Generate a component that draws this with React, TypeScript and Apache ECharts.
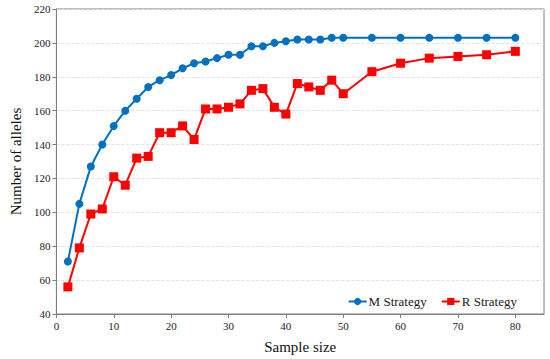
import React, { useEffect, useRef } from "react";
import * as echarts from "echarts";

const sampleSizes = [2, 4, 6, 8, 10, 12, 14, 16, 18, 20, 22, 24, 26, 28, 30, 32, 34, 36, 38, 40, 42, 44, 46, 48, 50, 55, 60, 65, 70, 75, 80];
const mStrategy = [71, 105, 127, 140, 151, 160, 167, 174, 178, 181, 185, 188, 189, 191, 193, 193, 198, 198, 200, 201, 202, 202, 202, 203, 203, 203, 203, 203, 203, 203, 203];
const rStrategy = [56, 79, 99, 102, 121, 116, 132, 133, 147, 147, 151, 143, 161, 161, 162, 164, 172, 173, 162, 158, 176, 174, 172, 178, 170, 183, 188, 191, 192, 193, 195];
const seriesNames = ["M Strategy", "R Strategy"];
const xTitle = "Sample size";
const yTitle = "Number of alleles";

const FONT = "Liberation Serif";

export default function App() {
  const ref = useRef<HTMLDivElement>(null);
  useEffect(() => {
    if (!ref.current) return;
    const chart = echarts.init(ref.current, undefined, { renderer: "svg" });
    const axisColor = "#7f7f7f";
    chart.setOption({
      animation: false,
      textStyle: { fontFamily: FONT },
      grid: { left: 47, right: 6, top: 9, bottom: 42, show: true, borderColor: axisColor, borderWidth: 1 },
      legend: {
        data: seriesNames,
        right: 28,
        bottom: 46,
        itemWidth: 18,
        itemHeight: 9,
        itemGap: 14,
        textStyle: { fontFamily: FONT, fontSize: 13, color: "#222", padding: [0, 0, 0, -3] },
      },
      xAxis: {
        type: "value",
        min: 0,
        max: 85,
        interval: 10,
        name: xTitle,
        nameLocation: "middle",
        nameGap: 25,
        nameTextStyle: { fontFamily: FONT, fontSize: 15, color: "#111" },
        axisLine: { show: true, lineStyle: { color: axisColor } },
        axisTick: { show: true, length: 4, lineStyle: { color: axisColor } },
        axisLabel: { fontFamily: FONT, fontSize: 11, color: "#222", margin: 6, showMaxLabel: false },
        splitLine: { show: false },
      },
      yAxis: {
        type: "value",
        min: 40,
        max: 220,
        interval: 20,
        name: yTitle,
        nameLocation: "middle",
        nameGap: 33,
        nameTextStyle: { fontFamily: FONT, fontSize: 15, color: "#111" },
        axisLine: { show: true, lineStyle: { color: axisColor } },
        axisTick: { show: true, length: 4, lineStyle: { color: axisColor } },
        axisLabel: { fontFamily: FONT, fontSize: 11, color: "#222", margin: 6 },
        splitLine: { show: true, lineStyle: { color: "#e0e0e0", type: [3, 2] } },
      },
      series: [
        {
          name: seriesNames[0],
          type: "line",
          data: sampleSizes.map((x, i) => [x, mStrategy[i]]),
          symbol: "circle",
          symbolSize: 8,
          itemStyle: { color: "#0070C0" },
          lineStyle: { color: "#0070C0", width: 2 },
        },
        {
          name: seriesNames[1],
          type: "line",
          data: sampleSizes.map((x, i) => [x, rStrategy[i]]),
          symbol: "rect",
          symbolSize: 9,
          itemStyle: { color: "#FF0000" },
          lineStyle: { color: "#FF0000", width: 2 },
        },
      ],
    });
    return () => chart.dispose();
  }, []);
  return <div ref={ref} style={{ width: 550, height: 359, position: "absolute", left: 0, top: 0 }} />;
}
